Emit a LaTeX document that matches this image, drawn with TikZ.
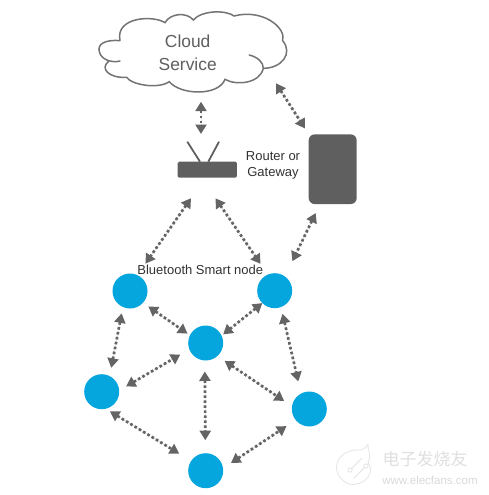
\documentclass[tikz,border=0pt]{standalone}
\usepackage{fontspec}
\setmainfont{Liberation Sans}
\newfontfamily\cjkmark{Noto Sans CJK SC}
\usetikzlibrary{arrows.meta}
\definecolor{slate}{RGB}{95,95,95}
\definecolor{linkgrey}{RGB}{100,100,100}
\definecolor{btblue}{RGB}{5,165,222}
\definecolor{ink}{RGB}{50,50,50}
\tikzset{
  >={Triangle[length=9.5pt,width=11pt]},
  mesh node/.style={circle,fill=btblue,minimum size=35pt,inner sep=0pt,outer sep=0pt},
  hardware/.style={fill=slate,inner sep=0pt,outer sep=0pt},
  link/.style={<->,draw=linkgrey,fill=linkgrey,line width=2.7pt,dash pattern=on 2.6pt off 2.4pt},
  aerial/.style={draw=slate,line width=1.8pt},
  outline/.style={draw=black!55,line width=1.5pt,line cap=round},
  tag/.style={align=center,text=ink,inner sep=0pt,font=\fontsize{13}{16}\selectfont},
}
\begin{document}
\begin{tikzpicture}[x=1pt,y=-1pt]
  \useasboundingbox (0,0) rectangle (489,495);
  % cloud outline
  \begin{scope}[xshift=90pt,x=0.3333pt,y=-0.3333pt]
    \draw[outline,fill=white] (90,122) .. controls (40,118) and (22,135) .. (28,155)
      .. controls (32,178) and (65,190) .. (90,183)
      (55,185) .. controls (30,205) and (55,235) .. (110,232)
      .. controls (125,255) and (205,268) .. (238,245)
      .. controls (270,285) and (385,290) .. (405,238)
      .. controls (440,258) and (510,250) .. (520,205)
      .. controls (575,205) and (610,160) .. (578,122)
      .. controls (590,85) and (520,25) .. (432,48)
      .. controls (410,30) and (335,30) .. (310,60)
      .. controls (290,35) and (240,40) .. (225,68)
      .. controls (190,45) and (75,50) .. (90,122)
      (478,165) .. controls (505,172) and (520,188) .. (520,205);
  \end{scope}
  \node[align=center,text=slate,inner sep=0pt,font=\fontsize{17.4}{23}\selectfont] (cloud) at (187.7,53) {Cloud\\Service};
  \coordinate (cloudport) at (201,101.7);
  \coordinate (cloudside) at (276,83.3);

  % router and gateway
  \node[hardware,rounded corners=1.5pt,minimum width=59.3pt,minimum height=16pt] (router) at (207.3,169.7) {};
  \draw[aerial] ([xshift=-7.3pt]router.north) -- ++(-12.7,-20);
  \draw[aerial] ([xshift=1pt]router.north) -- ++(10.7,-20);
  \coordinate (routertop) at (201,134);
  \node[hardware,rounded corners=6pt,minimum width=48pt,minimum height=69.7pt] (gateway) at (332.7,169.2) {};
  \node[tag] (routerlabel) at (273,165.7) {Router or\\Gateway};

  % bluetooth nodes
  \node[mesh node] (n1) at (130,291) {};
  \node[mesh node] (n2) at (274.7,290.7) {};
  \node[mesh node] (n3) at (205.7,343) {};
  \node[mesh node] (n4) at (101.7,391.7) {};
  \node[mesh node] (n5) at (309.3,409) {};
  \node[mesh node] (n6) at (205.7,470.7) {};
  \node[tag] (btlabel) at (200.3,270) {Bluetooth Smart node};

  % links
  \draw[link] (cloudport) -- (routertop);
  \draw[link,shorten >=7pt] (cloudside) -- (gateway.north west);
  \draw[link,shorten <=25pt,shorten >=14pt] ([xshift=-2pt]router.south) -- (n1.65);
  \draw[link,shorten <=25pt,shorten >=13pt] ([xshift=-6pt]router.south) -- (n2.113);
  \draw[link,shorten <=10pt,shorten >=17pt] (gateway.250) -- (n2.54);
  \foreach \src/\sa/\dst/\da/\gs/\ge in {
    n1/318/n3/154/6.5/3, n2/225/n3/25/0/2, n1/246/n4/63/6.5/8.5,
    n4/4/n3/201/8/10.5, n3/267/n6/91/11/13, n3/312/n5/171.5/8.7/9.5,
    n2/291/n5/118.5/7/12.5, n4/283/n6/146.6/5/14, n6/8.5/n5/219/9.5/11}
    \draw[link,shorten <=\gs pt,shorten >=\ge pt] (\src.\sa) -- (\dst.\da);

  % watermark
  \draw[gray!20,line width=0.8pt,fill=white] (368,444) .. controls (368,452) and (372,456) .. (368,462)
    .. controls (378,478) and (355,490) .. (345,482) .. controls (328,470) and (338,448) .. (361,450)
    .. controls (366,448) and (367,446) .. (368,444);
  \draw[gray!25,line width=0.7pt] (350,470) circle (2.2) (366,466) circle (2.2) (352,468) -- (362,458) (364,468) -- (354,478);
  \node[text=gray!25,inner sep=0pt,font=\cjkmark\fontsize{17}{17}\selectfont] (markcn) at (425,459) {电子发烧友};
  \node[text=gray!30,inner sep=0pt,font=\fontsize{11.5}{12}\selectfont] (markurl) at (430,480) {www.elecfans.com};
\end{tikzpicture}
\end{document}
